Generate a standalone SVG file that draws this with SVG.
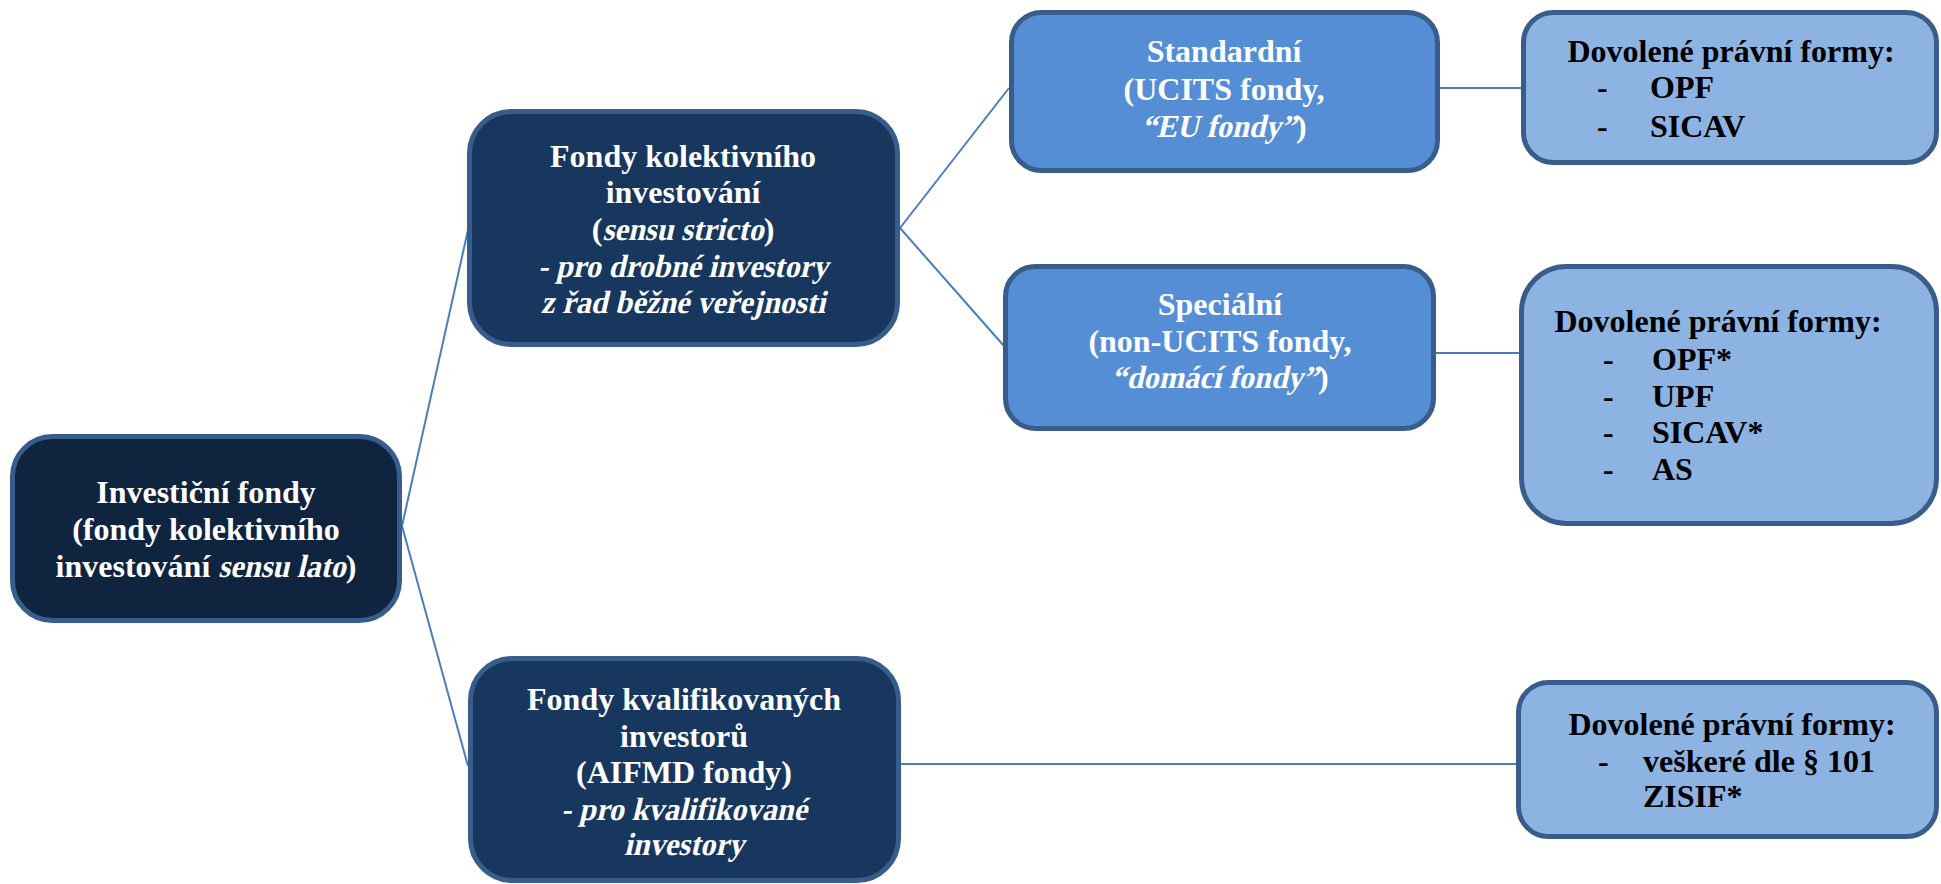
<svg xmlns="http://www.w3.org/2000/svg" width="1941" height="884" viewBox="0 0 1941 884">
<style>
.box{stroke:#385d8a;stroke-width:5}
.root{fill:#0f243e}
.dark{fill:#17375e}
.mid{fill:#558ed5}
.light{fill:#8db3e2}
.t{font-family:"Liberation Serif","Times New Roman",serif;font-size:32px;font-weight:bold}
.w{fill:#ffffff;text-anchor:middle}
.ws{fill:#ffffff;text-anchor:start}
.b{fill:#000000}
.bc{fill:#000000;text-anchor:middle}
.conn line{stroke:#4a7ebb;stroke-width:2}
</style>
<rect width="1941" height="884" fill="#ffffff"/>
<g class="conn" id="connectors">
<line x1="402" y1="526" x2="468" y2="230"/>
<line x1="402" y1="526" x2="468" y2="766"/>
<line x1="900" y1="228" x2="1009" y2="88"/>
<line x1="900" y1="228" x2="1004" y2="346"/>
<line x1="1440" y1="88" x2="1522" y2="88"/>
<line x1="1436" y1="353" x2="1519" y2="353"/>
<line x1="900" y1="764" x2="1516" y2="764"/>
</g>
<g id="root">
<rect class="box root" x="12.5" y="436.5" width="387" height="184" rx="40"/>
<text class="t w" x="206" y="503">Investiční fondy</text>
<text class="t w" x="206" y="540">(fondy kolektivního</text>
<text class="t ws" x="55.6" y="577">investování </text>
<text class="t ws" transform="translate(218.3,577) skewX(-13) scale(0.95,1)">sensu lato</text>
<text class="t ws" x="345.8" y="577">)</text>
</g>
<g id="fki">
<rect class="box dark" x="469.5" y="111.5" width="428" height="233" rx="42"/>
<text class="t w" x="683" y="167">Fondy kolektivního</text>
<text class="t w" x="683" y="203">investování</text>
<text class="t ws" x="591.7" y="240">(</text>
<text class="t ws" transform="translate(602.4,240) skewX(-13) scale(0.95,1)">sensu stricto</text>
<text class="t ws" x="763.7" y="240">)</text>
<text class="t w" transform="translate(683,277) skewX(-13) scale(0.95,1)">- pro drobné investory</text>
<text class="t w" transform="translate(683,313) skewX(-13) scale(0.95,1)">z řad běžné veřejnosti</text>
</g>
<g id="fkvi">
<rect class="box dark" x="470.5" y="658.5" width="428" height="222" rx="42"/>
<text class="t w" x="684" y="710">Fondy kvalifikovaných</text>
<text class="t w" x="684" y="747">investorů</text>
<text class="t w" x="684" y="783">(AIFMD fondy)</text>
<text class="t w" transform="translate(684,820) skewX(-13) scale(0.95,1)">- pro kvalifikované</text>
<text class="t w" transform="translate(684,855) skewX(-13) scale(0.95,1)">investory</text>
</g>
<g id="standard">
<rect class="box mid" x="1011.5" y="12.5" width="426" height="158" rx="30"/>
<text class="t w" x="1224" y="62">Standardní</text>
<text class="t w" x="1224" y="100">(UCITS fondy,</text>
<text class="t ws" transform="translate(1141.4,137) skewX(-13) scale(0.95,1)">“EU fondy”</text>
<text class="t ws" x="1296" y="137">)</text>
</g>
<g id="specialni">
<rect class="box mid" x="1005.5" y="266.5" width="428" height="162" rx="30"/>
<text class="t w" x="1220" y="315">Speciální</text>
<text class="t w" x="1220" y="352">(non-UCITS fondy,</text>
<text class="t ws" transform="translate(1111.2,388) skewX(-13) scale(0.95,1)">“domácí fondy”</text>
<text class="t ws" x="1318.1" y="388">)</text>
</g>
<g id="formy1">
<rect class="box light" x="1523.5" y="12.5" width="413" height="150" rx="30"/>
<text class="t bc" x="1731" y="62">Dovolené právní formy:</text>
<text class="t b" x="1597" y="98">-</text><text class="t b" x="1650" y="98">OPF</text>
<text class="t b" x="1597" y="137">-</text><text class="t b" x="1650" y="137">SICAV</text>
</g>
<g id="formy2">
<rect class="box light" x="1521.5" y="266.5" width="415" height="257" rx="45"/>
<text class="t bc" x="1718" y="332">Dovolené právní formy:</text>
<text class="t b" x="1603" y="370">-</text><text class="t b" x="1652" y="370">OPF*</text>
<text class="t b" x="1603" y="407">-</text><text class="t b" x="1652" y="407">UPF</text>
<text class="t b" x="1603" y="443">-</text><text class="t b" x="1652" y="443">SICAV*</text>
<text class="t b" x="1603" y="480">-</text><text class="t b" x="1652" y="480">AS</text>
</g>
<g id="formy3">
<rect class="box light" x="1518.5" y="682.5" width="418" height="154" rx="30"/>
<text class="t bc" x="1732" y="735">Dovolené právní formy:</text>
<text class="t b" x="1598" y="772">-</text><text class="t b" x="1643" y="772">veškeré dle § 101</text>
<text class="t b" x="1643" y="807">ZISIF*</text>
</g>
</svg>
